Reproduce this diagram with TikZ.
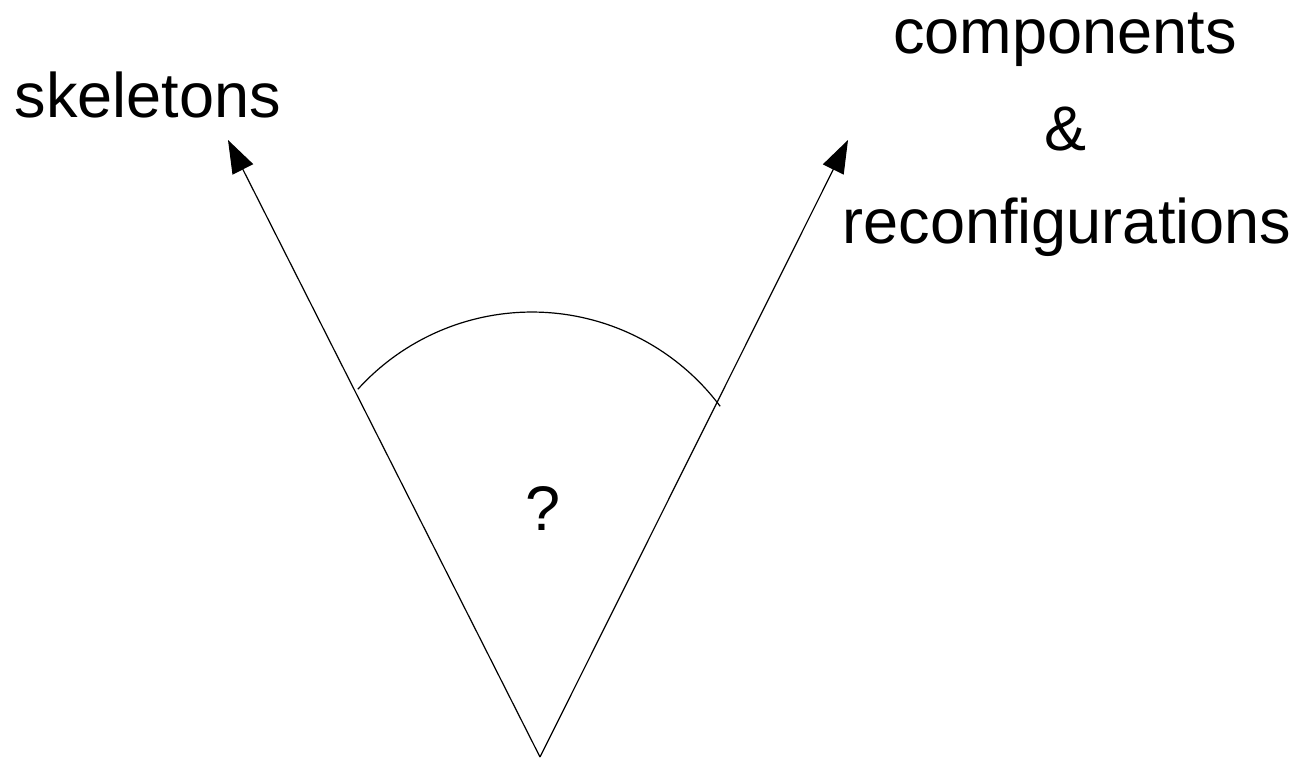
\documentclass[tikz,border=0pt]{standalone}
\usepackage{fontspec}
\setmainfont{Liberation Sans}
\usetikzlibrary{arrows.meta}
\begin{document}
\begin{tikzpicture}[x=1pt,y=1pt,
  lbl/.style={anchor=base,inner sep=0pt,font=\fontsize{63}{70}\selectfont},
  axis/.style={line width=1.2pt,-{Triangle[length=33pt,width=23pt]}},
  thin/.style={line width=1.2pt}]
\useasboundingbox (0,0) rectangle (1301,759);
\coordinate (v) at (540,2);
\coordinate (lt) at (228,619);
\coordinate (rt) at (848,619);
\draw[axis] (v) -- (lt);
\draw[axis] (v) -- (rt);
\coordinate (arcstart) at (357.9,369.8);
\draw[thin] (arcstart) arc[start angle=137.8,end angle=36.8,radius=235pt];
\node[lbl] (skel) at (148,641) {skeletons};
\node[lbl] (comp) at (1065,705) {components};
\node[lbl] (amp) at (1065,608) {\&};
\node[lbl] (reconf) at (1067,515) {reconfigurations};
\node[lbl] (q) at (543,228) {?};
\end{tikzpicture}
\end{document}
